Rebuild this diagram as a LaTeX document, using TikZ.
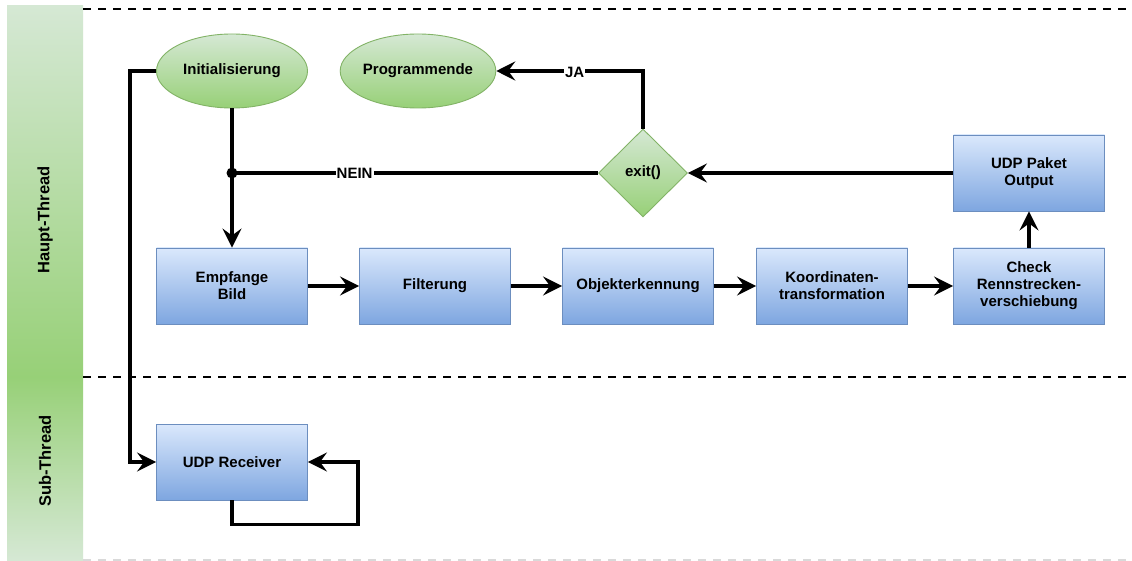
\documentclass[tikz,border=0pt]{standalone}
\usepackage{fontspec}
\setmainfont{Liberation Sans}
\usetikzlibrary{shapes.geometric,arrows.meta}

\definecolor{blueTop}{HTML}{DAE8FC}
\definecolor{blueBot}{HTML}{7EA6E0}
\definecolor{blueLine}{HTML}{6C8EBF}
\definecolor{greenTop}{HTML}{D5E8D4}
\definecolor{greenBot}{HTML}{97D077}
\definecolor{greenLine}{HTML}{82B366}

\tikzset{
  lbl/.style={font=\bfseries\fontsize{15}{17}\selectfont, align=center},
  procbox/.style={lbl, rectangle, draw=blueLine, line width=0.9pt,
    top color=blueTop, bottom color=blueBot,
    minimum width=151pt, minimum height=76pt, inner sep=0pt},
  termnode/.style={lbl, ellipse, draw=greenLine, line width=0.9pt,
    top color=greenTop, bottom color=greenBot,
    minimum width=151pt, minimum height=74pt, inner sep=0pt},
  decision/.style={lbl, diamond, draw=greenLine, line width=0.9pt,
    top color=greenTop, bottom color=greenBot,
    minimum width=89pt, minimum height=88pt, inner sep=0pt},
  flow/.style={line width=3.4pt, line join=miter},
  arr/.style={flow, -{Stealth[length=19pt, width=19pt, inset=7pt]}},
  edgelbl/.style={font=\bfseries\fontsize{15}{17}\selectfont, fill=white, inner sep=1pt},
  lanelbl/.style={font=\bfseries\fontsize{16.5}{19}\selectfont, rotate=90},
  sep/.style={dash pattern=on 8pt off 7pt, line width=2pt},
}

\begin{document}
\begin{tikzpicture}[x=1pt, y=-1pt]
  \useasboundingbox (0,0) rectangle (1132,561);
  \fill[white] (0,0) rectangle (1132,561);

  % swimlane headers
  \shade[top color=greenTop, bottom color=greenBot] (7,6) rectangle (83,377);
  \shade[top color=greenBot, bottom color=greenTop] (7,377) rectangle (83,560);
  \node[lanelbl] (lanemain) at (45,220) {Haupt-Thread};
  \node[lanelbl] (lanesub) at (45,461) {Sub-Thread};

  % lane separators
  \draw[sep] (83,9) -- (1132,9);
  \draw[sep] (83,377) -- (1132,377);
  \draw[sep, black!15] (83,560) -- (1132,560);

  % nodes
  \node[termnode] (init) at (232,71) {Initialisierung};
  \node[termnode] (prog) at (418,71) {Programmende};
  \node[decision] (exit) at (643,173) {exit()};
  \node[procbox] (udpout) at (1029,173) {UDP Paket\\Output};
  \node[procbox] (empf) at (232,286) {Empfange\\Bild};
  \node[procbox] (filt) at (435,286) {Filterung};
  \node[procbox] (obj) at (638,286) {Objekterkennung};
  \node[procbox] (koord) at (832,286) {Koordinaten-\\transformation};
  \node[procbox] (check) at (1029,286) {Check\\Rennstrecken-\\verschiebung};
  \node[procbox] (recv) at (232,462) {UDP Receiver};

  % junction of the loop back
  \coordinate (j) at (232,173);

  % connectors
  \draw[arr] (init.south) -- (j) -- (empf.north);
  \draw[flow] (exit.west) -- node[edgelbl, pos=0.665] {NEIN} (j);
  \fill (j) circle (5.5pt);
  \draw[arr] (exit.north) |- node[edgelbl, pos=0.733, yshift=-1pt] {JA} (prog.east);
  \draw[arr] (udpout.west) -- (exit.east);
  \draw[arr] (check.north) -- (udpout.south);
  \draw[arr] (empf.east) -- (filt.west);
  \draw[arr] (filt.east) -- (obj.west);
  \draw[arr] (obj.east) -- (koord.west);
  \draw[arr] (koord.east) -- (check.west);
  \draw[arr] (init.west) -- ++(-26,0) |- (recv.west);
  \draw[arr] (recv.south) -- ++(0,24) -- ++(126,0) |- (recv.east);
\end{tikzpicture}
\end{document}
